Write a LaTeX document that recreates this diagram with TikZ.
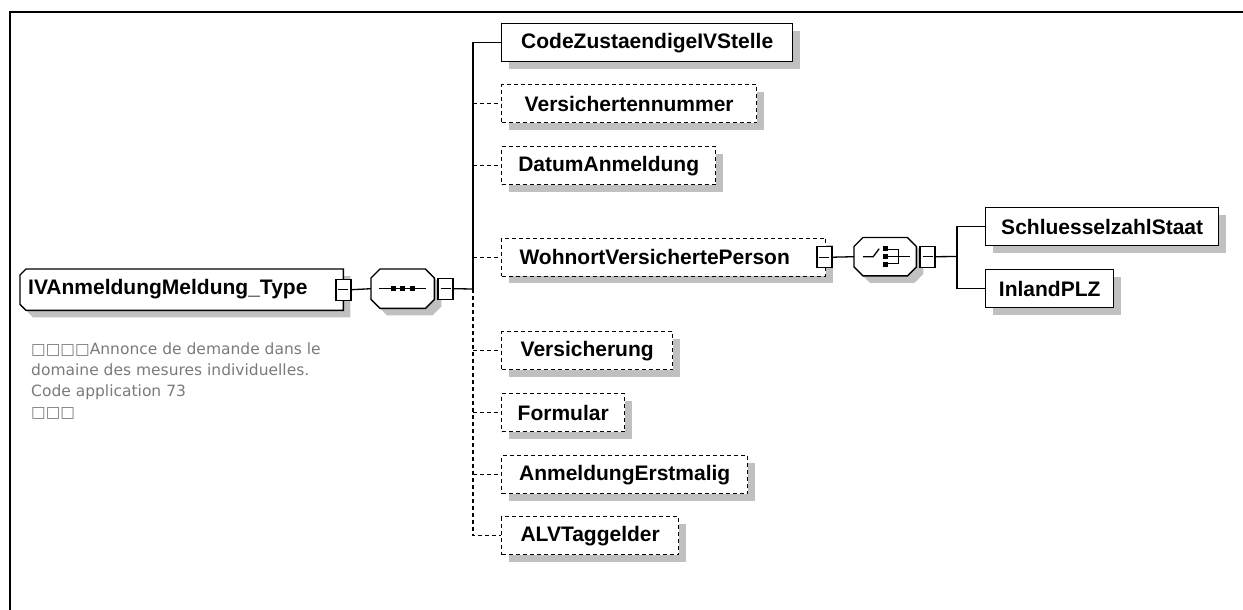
\documentclass[tikz,border=0pt]{standalone}
\usepackage{fontspec}
\setmainfont{Liberation Sans}
\newfontfamily\djv{DejaVu Sans}
\usetikzlibrary{shadows}
\definecolor{shadowgray}{HTML}{C0C0C0}
\definecolor{descgray}{HTML}{7A7A7A}
\tikzset{
  boxshadow/.style={drop shadow={shadow xshift=7pt,shadow yshift=-7pt,fill=shadowgray,opacity=1}},
  elem/.style={draw, line width=1.4pt, fill=white, anchor=north west, minimum height=38pt,
    inner sep=0pt, font=\fontsize{21}{24}\selectfont\bfseries, boxshadow},
  optelem/.style={elem, dash pattern=on 4pt off 3pt},
  placeholder/.style={draw=none, anchor=north west, inner sep=0pt},
  outline/.style={draw, line width=1.4pt, fill=white},
  shadowfill/.style={fill=shadowgray},
  minus/.style={draw, fill=white, line width=1.4pt, minimum width=15pt, minimum height=21pt,
    inner sep=0pt, path picture={\draw[line width=1.3pt] ([xshift=2.5pt]path picture bounding box.west) -- ([xshift=-2.5pt]path picture bounding box.east);}},
  conn/.style={line width=1.3pt},
  optconn/.style={line width=1.3pt, dash pattern=on 4pt off 3pt},
  frame/.style={line width=1.5pt},
  desc/.style={anchor=north west, inner sep=0pt, align=left, text=descgray,
    font=\djv\fontsize{15.5}{21}\selectfont},
}
% octagon outline around a node: #1 node, #2 chamfer, #3 extra shift
\newcommand\octapath[3]{([#3,xshift=#2]#1.north west) -- ([#3,xshift=-#2]#1.north east) -- ([#3,yshift=-#2]#1.north east) -- ([#3,yshift=#2]#1.south east) -- ([#3,xshift=-#2]#1.south east) -- ([#3,xshift=#2]#1.south west) -- ([#3,yshift=#2]#1.south west) -- ([#3,yshift=-#2]#1.north west) -- cycle}
% left-chamfered outline
\newcommand\leftchamfpath[3]{([#3,xshift=#2]#1.north west) -- ([#3]#1.north east) -- ([#3]#1.south east) -- ([#3,xshift=#2]#1.south west) -- ([#3,yshift=#2]#1.south west) -- ([#3,yshift=-#2]#1.north west) -- cycle}
\begin{document}
\begin{tikzpicture}[x=1pt,y=-1pt]
\useasboundingbox (0,0) rectangle (1243,610);
\draw[frame] (1243,12) -- (10,12) -- (10,610);

% root
\node[placeholder, minimum width=323pt, minimum height=41pt] (root) at (20,269) {};
\fill[shadowfill] \leftchamfpath{root}{6pt}{xshift=7pt,yshift=-7pt};
\draw[outline] \leftchamfpath{root}{6pt}{};
\node[anchor=west, inner sep=0pt, font=\fontsize{21}{24}\selectfont\bfseries] (rootlbl) at (28,289.5) {IVAnmeldungMeldung\_Type};

\node[desc] (desc) at (31,343) {□□□□Annonce de demande dans le\\domaine des mesures individuelles.\\Code application 73\\□□□};

% sequence
\node[placeholder, minimum width=63pt, minimum height=39pt] (seq) at (371,269) {};
\fill[shadowfill] \octapath{seq}{9pt}{xshift=7pt,yshift=-7pt};
\draw[outline] \octapath{seq}{9pt}{};
\begin{scope}[shift={(seq.center)}]
  \draw[line width=1.3pt] (-23.5,0) -- (23.5,0);
  \foreach \dx in {-9.5,0,9.5} \fill (\dx-2.5,-2.5) rectangle (\dx+2.5,2.5);
\end{scope}

% children
\node[elem, minimum width=291pt] (code) at (501,23) {CodeZustaendigeIVStelle};
\node[optelem, minimum width=255pt] (vn) at (501,84) {Versichertennummer};
\node[optelem, minimum width=214pt] (dat) at (501,146) {DatumAnmeldung};
\node[optelem, minimum width=324pt] (woh) at (501,237.5) {\hspace*{-18pt}WohnortVersichertePerson};
\node[optelem, minimum width=171pt] (vers) at (501,331) {Versicherung};
\node[optelem, minimum width=123pt] (form) at (501,393) {Formular};
\node[optelem, minimum width=246pt] (erst) at (501,455) {AnmeldungErstmalig};
\node[optelem, minimum width=177pt] (alv) at (501,516) {ALVTaggelder};

% choice
\node[placeholder, minimum width=62pt, minimum height=38pt] (choice) at (854,237.5) {};
\fill[shadowfill] \octapath{choice}{9pt}{xshift=7pt,yshift=-7pt};
\draw[outline] \octapath{choice}{9pt}{};
\begin{scope}[shift={(choice.center)}]
  \draw[line width=1.3pt] (-22,0) -- (-12,0) -- (-6,-8);
  \foreach \dy in {-8,0,7.5} \fill (-2,\dy-2.5) rectangle (3,\dy+2.5);
  \draw[line width=1.3pt] (3,-7) -- (13,-7) -- (13,7) -- (3,7);
  \draw[line width=1.3pt] (3,0) -- (25,0);
\end{scope}

\node[elem, minimum width=233pt] (sch) at (985,207) {SchluesselzahlStaat};
\node[elem, minimum width=128pt] (plz) at (985,269) {InlandPLZ};

% coordinates for buses
\coordinate (bus) at (473,289);
\coordinate (bus2) at (957,256.5);

% minus boxes
\node[minus] (rm) at (root.east) {};
\node[minus, anchor=west] (sm) at ([xshift=3pt]seq.east) {};
\node[minus] (wm) at ([xshift=-2pt]woh.east) {};
\node[minus, anchor=west] (cm) at ([xshift=3pt]choice.east) {};

% connectors
\draw[conn] (rm.east) -- (seq.west);
\draw[conn] (sm.east) -- (bus);
\draw[conn] (bus) |- (code.west);
\draw[optconn] (vn.west -| bus) -- (vn.west);
\draw[optconn] (dat.west -| bus) -- (dat.west);
\draw[optconn] (woh.west -| bus) -- (woh.west);
\draw[optconn] (bus) |- (alv.west);
\draw[optconn] (vers.west -| bus) -- (vers.west);
\draw[optconn] (form.west -| bus) -- (form.west);
\draw[optconn] (erst.west -| bus) -- (erst.west);
\draw[conn] (wm.east) -- (choice.west);
\draw[conn] (cm.east) -- (bus2);
\draw[conn] (bus2) |- (sch.west);
\draw[conn] (bus2) |- (plz.west);
\end{tikzpicture}
\end{document}
